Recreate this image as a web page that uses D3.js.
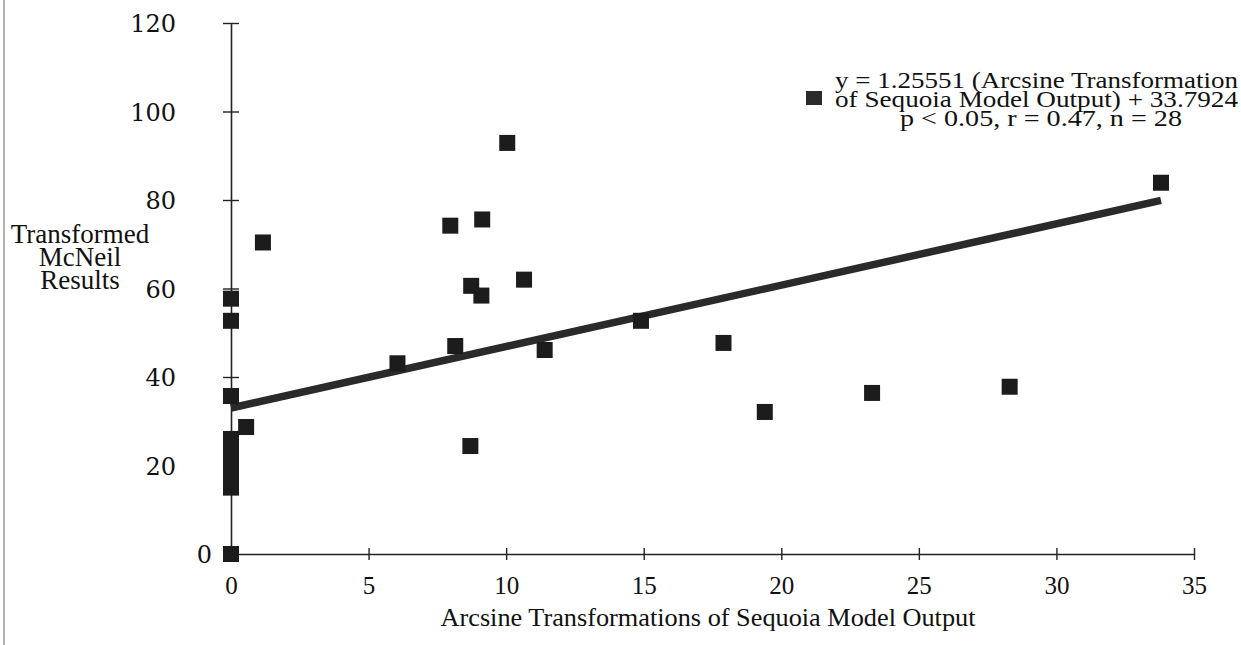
<!DOCTYPE html>
<html>
<head>
<meta charset="utf-8">
<script src="https://cdn.jsdelivr.net/npm/d3@7"></script>
<style>
html,body{margin:0;padding:0;background:#fff;}
svg{display:block;}
</style>
</head>
<body>
<svg id="chart" width="1241" height="645"></svg>
<script>
// Data
const xValues = [0, 0, 0, 0, 0, 0, 0, 0, 0, 0,
  0.55, 1.16, 6.05, 7.97, 9.13, 8.73, 9.1, 10.65, 8.15, 11.4,
  8.7, 14.9, 10.04, 17.9, 19.4, 23.3, 28.3, 33.8];
const yValues = [0, 15, 17, 19, 21.5, 24, 26, 35.7, 52.7, 57.7,
  28.7, 70.4, 43.1, 74.2, 75.6, 60.6, 58.4, 62.0, 47.0, 46.1,
  24.4, 52.7, 92.9, 47.7, 32.1, 36.4, 37.8, 83.9];
const fitX = [0, 33.8];
const fitY = [33.0, 79.9];
const xTicks = [0, 5, 10, 15, 20, 25, 30, 35];
const yTicks = [0, 20, 40, 60, 80, 100, 120];
const xTitle = "Arcsine Transformations of Sequoia Model Output";
const yTitle = ["Transformed", "McNeil", "Results"];
const legendLines = ["y = 1.25551 (Arcsine Transformation",
  "of Sequoia Model Output) + 33.7924",
  "p < 0.05, r = 0.47, n = 28"];

const serif = '"Liberation Serif","Times New Roman",serif';
const svg = d3.select("#chart");
const x = d3.scaleLinear().domain([0, 35]).range([231, 1194]);
const y = d3.scaleLinear().domain([0, 120]).range([554, 23]);

// scan border line at left
svg.append("line").attr("x1", 4).attr("x2", 4).attr("y1", 0).attr("y2", 645)
  .attr("stroke", "#999").attr("stroke-width", 1.5);

// Axes
const xAxis = d3.axisBottom(x).tickValues(xTicks).tickSize(0).tickFormat(d3.format("d"));
const gx = svg.append("g").attr("transform", `translate(0,${y(0)})`).call(xAxis);
gx.select(".domain").attr("stroke", "#222").attr("stroke-width", 1.6);
gx.selectAll(".tick text").attr("dy", 0).attr("y", 40)
  .style("font-family", serif).style("font-size", "25px").style("fill", "#111");
gx.selectAll(".tick").append("line").attr("y1", -6).attr("y2", 6)
  .attr("stroke", "#222").attr("stroke-width", 1.4);

const yAxis = d3.axisLeft(y).tickValues(yTicks).tickSize(0).tickFormat(d3.format("d"));
const gy = svg.append("g").attr("transform", `translate(${x(0)},0)`).call(yAxis);
gy.select(".domain").attr("stroke", "#222").attr("stroke-width", 1.6);
gy.selectAll(".tick text").attr("x", d => d === 0 ? -19 : -55).attr("dy", "0.36em")
  .style("font-family", '"DejaVu Serif",serif').style("font-size", "24px").style("fill", "#111");
gy.selectAll(".tick").append("line").attr("x1", -8).attr("x2", 8)
  .attr("stroke", "#222").attr("stroke-width", 1.4);

// Regression line
svg.append("line")
  .attr("x1", x(fitX[0])).attr("y1", y(fitY[0]))
  .attr("x2", x(fitX[1])).attr("y2", y(fitY[1]))
  .attr("stroke", "#2a2a2a").attr("stroke-width", 7.5);

// Points
const s = 16;
svg.append("g").selectAll("rect").data(xValues.map((d, i) => [d, yValues[i]]))
  .join("rect")
  .attr("x", d => x(d[0]) - s / 2).attr("y", d => y(d[1]) - s / 2)
  .attr("width", s).attr("height", s)
  .attr("fill", "#1c1c1c");

// Axis titles
svg.append("text").attr("x", 708).attr("y", 626).attr("text-anchor", "middle")
  .style("font-family", serif).style("font-size", "26px").style("fill", "#111")
  .attr("textLength", 535).attr("lengthAdjust", "spacingAndGlyphs")
  .text(xTitle);
svg.append("g").selectAll("text").data(yTitle).join("text")
  .attr("x", 80).attr("y", (d, i) => 243 + i * 23).attr("text-anchor", "middle")
  .style("font-family", serif).style("font-size", "27px").style("fill", "#111")
  .text(d => d);

// Legend
svg.append("rect").attr("x", 806).attr("y", 91).attr("width", 16).attr("height", 14)
  .attr("fill", "#2a2a2a");
const legendX = [835, 835, 900];
const legendY = [88, 107, 126];
const legendW = [403, 403, 282];
svg.append("g").selectAll("text").data(legendLines).join("text")
  .attr("x", (d, i) => legendX[i]).attr("y", (d, i) => legendY[i])
  .attr("textLength", (d, i) => legendW[i]).attr("lengthAdjust", "spacingAndGlyphs")
  .style("font-family", serif).style("font-size", "23px").style("fill", "#111")
  .text(d => d);
</script>
</body>
</html>
